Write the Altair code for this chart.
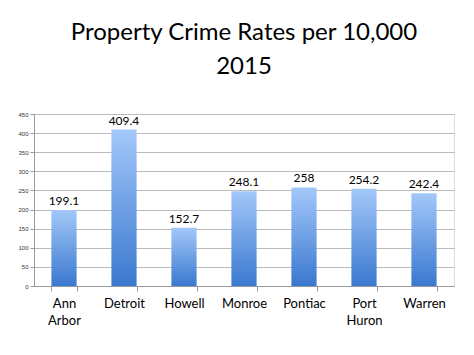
import altair as alt
import pandas as pd

cities = ["Ann Arbor", "Detroit", "Howell", "Monroe", "Pontiac", "Port Huron", "Warren"]
rates = [199.1, 409.4, 152.7, 248.1, 258, 254.2, 242.4]
labels = ["199.1", "409.4", "152.7", "248.1", "258", "254.2", "242.4"]
yticks = [0, 50, 100, 150, 200, 250, 300, 350, 400, 450]

df = pd.DataFrame({"city": cities, "rate": rates, "label": labels})

x = alt.X("city:N", sort=cities, title=None,
          scale=alt.Scale(paddingInner=0.58, paddingOuter=0.29),
          axis=alt.Axis(labelAngle=0, labelFontSize=13, labelColor="black",
                        labelFont="Lato", tickBand="extent", tickColor="#999999",
                        domainColor="#999999", tickSize=5, labelPadding=6,
                        labelExpr="split(datum.label, ' ')", labelLineHeight=17))
y = alt.Y("rate:Q", title=None,
          scale=alt.Scale(domain=[0, 450]),
          axis=alt.Axis(values=yticks, tickCount=10, labelFontSize=6,
                        labelOverlap=False, labelColor="#333333", gridColor="#bbbbbb",
                        domainColor="#999999", tickColor="#999999", tickSize=4,
                        labelPadding=2, minExtent=21))

bars = alt.Chart(df).mark_bar(
    color=alt.Gradient(gradient="linear",
                       stops=[alt.GradientStop(color="#a3c8fa", offset=0),
                              alt.GradientStop(color="#3a78cf", offset=1)],
                       x1=0, x2=0, y1=0, y2=1)
).encode(x=x, y=y)

text = alt.Chart(df).mark_text(dy=-9, fontSize=12, font="Lato", color="black").encode(
    x=x, y=y, text="label:N")

chart = (bars + text).properties(
    width=420, height=172,
    padding={"top": 13, "left": 5, "right": 5, "bottom": 5},
    title=alt.TitleParams(["Property Crime Rates per 10,000", "2015"], fontSize=24,
                          font="Lato", fontWeight="normal", lineHeight=34, offset=32,
                          color="black", anchor="middle")
).configure_view(stroke=None).configure(background="white")

chart.save("out.html", embed_options={"renderer": "svg", "actions": False})
